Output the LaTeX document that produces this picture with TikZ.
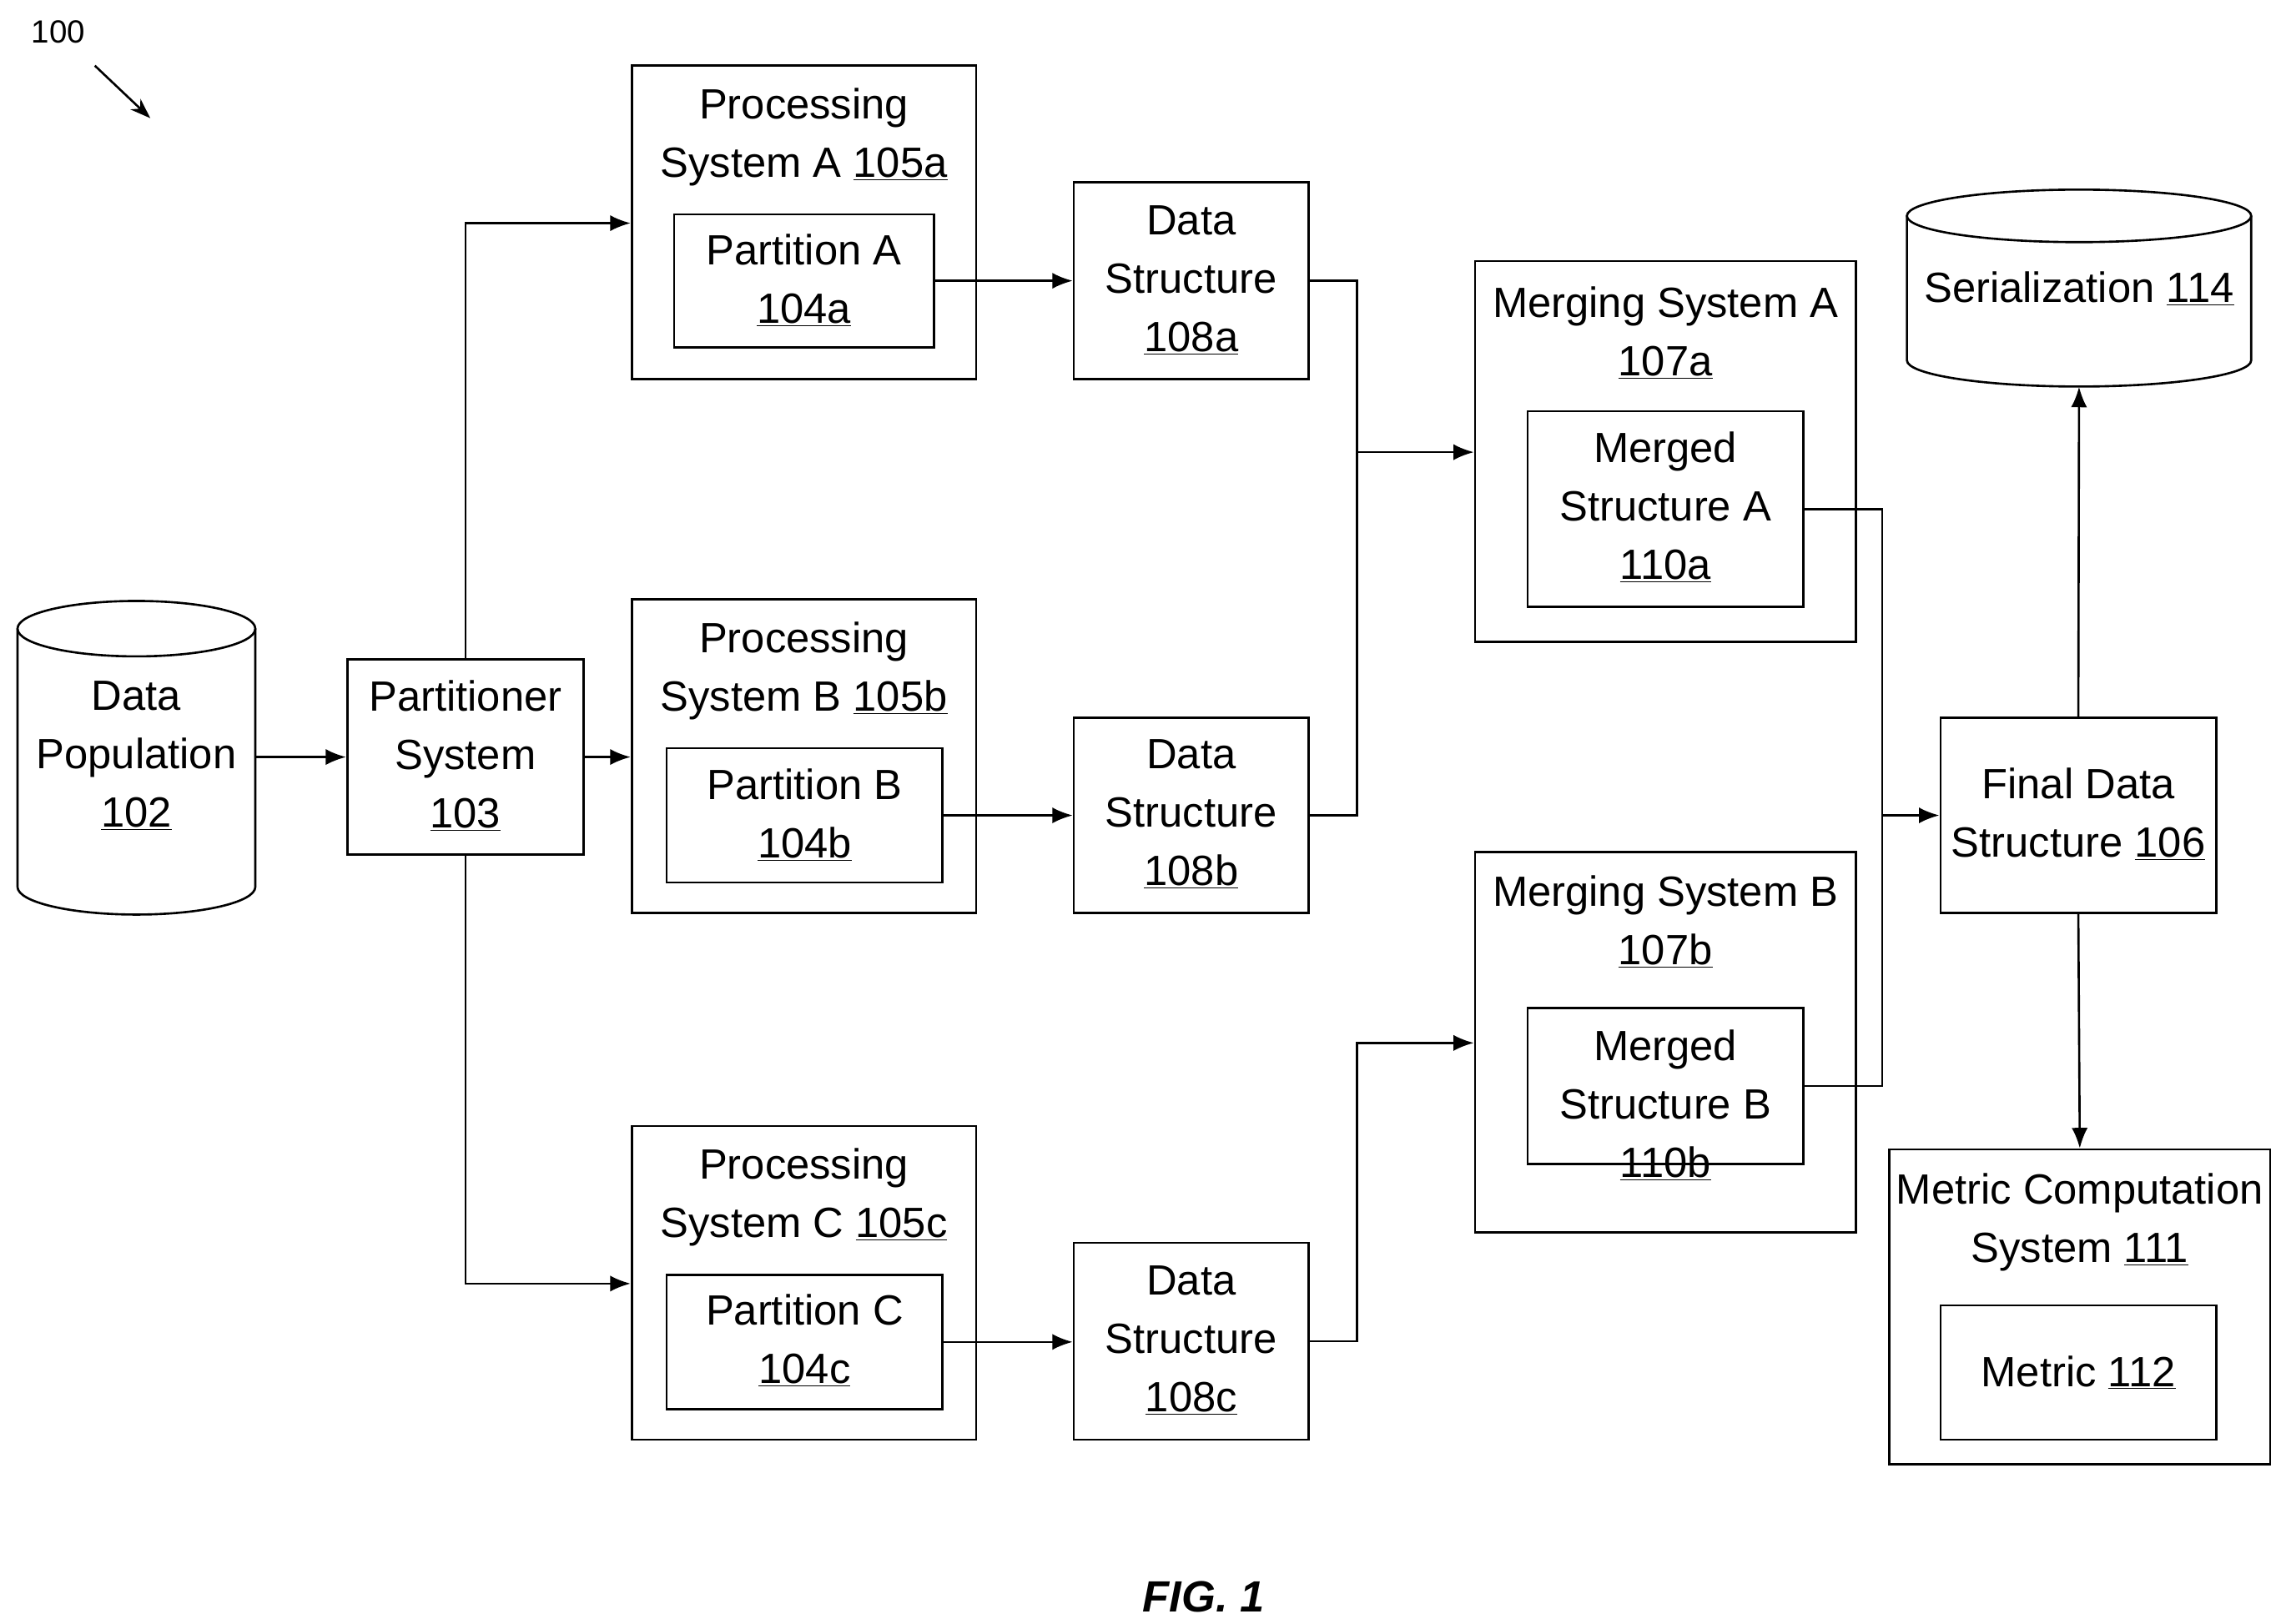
\documentclass[tikz,border=0pt]{standalone}
\usepackage{fontspec}
\setmainfont{Liberation Sans}
\usetikzlibrary{arrows.meta}
\newcommand{\nb}[1]{\underline{#1}}
\begin{document}
\begin{tikzpicture}[x=1pt,y=-1pt,
  box/.style={draw,line width=1.5pt,inner sep=0,minimum width=#1},
  txt/.style={align=center,inner sep=0,font=\fontsize{29pt}{40pt}\selectfont},
  arr/.style={line width=1.5pt,-{Latex[length=14pt,width=11pt]}},
  ln/.style={line width=1.5pt}]
\useasboundingbox (0,0) rectangle (1560,1113);
% label 100
\node[txt,font=\fontsize{22pt}{26pt}\selectfont] at (40,22) {100};
\coordinate (l1) at (65,45); \coordinate (l2) at (103,81);
\draw[arr,-{Stealth[length=14pt,width=10pt]}] (l1) -- (l2);
% Data population cylinder
\node[minimum width=163pt,minimum height=215pt,inner sep=0] (dp) at (93.5,519.5) {};
\draw[ln] (93.5,431) ellipse[x radius=81.5,y radius=19];
\draw[ln] (12,431) -- (12,608) arc[start angle=180,end angle=0,x radius=81.5,y radius=19] -- (175,431);
\node[txt] at (93.5,518) {Data\\Population\\\nb{102}};
% Partitioner
\node[box=162pt,minimum height=134pt] (part) at (319,519) {};
\node[txt] at (319,518) {Partitioner\\System\\\nb{103}};
% Processing A
\node[box=236pt,minimum height=215pt] (pa) at (551,152.5) {};
\node[txt] at (551,94) {Processing\\System A \nb{105a}};
\node[box=178pt,minimum height=91pt] (ia) at (551,192.5) {};
\node[txt] at (551,192) {Partition A\\\nb{104a}};
% Processing B
\node[box=236pt,minimum height=215pt] (pb) at (551,518.5) {};
\node[txt] at (551,460) {Processing\\System B \nb{105b}};
\node[box=189pt,minimum height=92pt] (ib) at (551.5,559) {};
\node[txt] at (551.5,559) {Partition B\\\nb{104b}};
% Processing C
\node[box=236pt,minimum height=215pt] (pc) at (551,879.5) {};
\node[txt] at (551,821) {Processing\\System C \nb{105c}};
\node[box=189pt,minimum height=92pt] (ic) at (551.5,920) {};
\node[txt] at (551.5,919) {Partition C\\\nb{104c}};
% Data structures
\node[box=161pt,minimum height=135pt] (da) at (816.5,192.5) {};
\node[txt] at (816.5,192) {Data\\Structure\\\nb{108a}};
\node[box=161pt,minimum height=134pt] (db) at (816.5,559) {};
\node[txt] at (816.5,558) {Data\\Structure\\\nb{108b}};
\node[box=161pt,minimum height=135pt] (dc) at (816.5,919.5) {};
\node[txt] at (816.5,919) {Data\\Structure\\\nb{108c}};
% Merging A
\node[box=261pt,minimum height=261pt] (ma) at (1141.5,309.5) {};
\node[txt] at (1141.5,228) {Merging System A\\\nb{107a}};
\node[box=189pt,minimum height=134pt] (mia) at (1141.5,349) {};
\node[txt] at (1141.5,348) {Merged\\Structure A\\\nb{110a}};
% Merging B
\node[box=261pt,minimum height=261pt] (mb) at (1141.5,714.5) {};
\node[txt] at (1141.5,632) {Merging System B\\\nb{107b}};
\node[box=189pt,minimum height=107pt] (mib) at (1141.5,744.5) {};
\node[txt] at (1141.5,758) {Merged\\Structure B\\\nb{110b}};
% Serialization cylinder
\node[minimum width=236pt,minimum height=135pt,inner sep=0] (ser) at (1425,197.5) {};
\draw[ln] (1425,148) ellipse[x radius=118,y radius=18];
\draw[ln] (1307,148) -- (1307,247) arc[start angle=180,end angle=0,x radius=118,y radius=18] -- (1543,148);
\node[txt] at (1425,198) {Serialization \nb{114}};
% Final
\node[box=189pt,minimum height=134pt] (fin) at (1424.5,559) {};
\node[txt] at (1424.5,558) {Final Data\\Structure \nb{106}};
% Metric computation
\node[box=261pt,minimum height=216pt] (mc) at (1425.5,896) {};
\node[txt] at (1425.5,838) {Metric Computation\\System \nb{111}};
\node[box=189pt,minimum height=92pt] (met) at (1424.5,941) {};
\node[txt] at (1424.5,941) {Metric \nb{112}};
% FIG
\node[txt,font=\fontsize{30pt}{36pt}\selectfont\bfseries\itshape] at (825,1095) {FIG. 1};
% connectors
\draw[arr] (dp.east |- part) -- (part.west);
\draw[arr] (part.east) -- (part.east -| pb.west);
\draw[arr] (part.north) |- (pa.west |- 0,153);
\draw[arr] (part.south) |- (pc.west |- 0,880);
\draw[arr] (ia.east) -- (ia.east -| da.west);
\draw[arr] (ib.east) -- (ib.east -| db.west);
\draw[arr] (ic.east) -- (ic.east -| dc.west);
\draw[ln] (da.east) -| (930,310);
\draw[ln] (db.east) -| (930,310);
\draw[arr] (930,310) -- (930,310 -| ma.west);
\draw[arr] (dc.east) -| (930,715) -- (930,715 -| mb.west);
\draw[ln] (mia.east) -| (1290,559);
\draw[ln] (mib.east) -| (1290,559);
\draw[arr] (1290,559) -- (fin.west);
\draw[arr] (fin.north) -- (ser.south);
\draw[arr] (fin.south) -- (mc.north);
\end{tikzpicture}
\end{document}
